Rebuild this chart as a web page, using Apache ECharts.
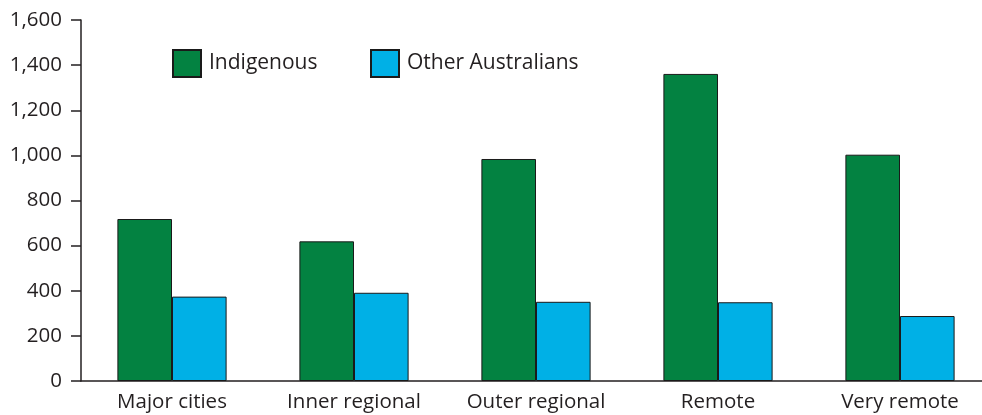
<!DOCTYPE html>
<html><head><meta charset="utf-8">
<script src="https://cdn.jsdelivr.net/npm/echarts@6/dist/echarts.min.js"></script>
<style>html,body{margin:0;padding:0;background:#fff;overflow:hidden;width:982px;height:415px}#c{width:991px;height:415px}</style>
</head><body><div id="c"></div>
<script>
const categories = ['Major cities','Inner regional','Outer regional','Remote','Very remote'];
const indigenous = [718, 619, 984, 1361, 1003];
const otherAustralians = [374, 391, 351, 349, 288];
const yTicks = {min: 0, max: 1600, interval: 200};

const FONT = 'Open Sans';
const TXT = '#231f20';
const chart = echarts.init(document.getElementById('c'), null, {renderer: 'canvas'});
chart.setOption({
  animation: false,
  backgroundColor: '#fff',
  grid: {left: 81, top: 20, height: 361, width: 910, containLabel: false},
  legend: [
    {data: ['Indigenous'], icon: 'rect', left: 172, top: 49, itemWidth: 28, itemHeight: 27, itemGap: 0,
     textStyle: {fontFamily: FONT, fontSize: 21, color: TXT, padding: [0,0,0,3]}, padding: 0},
    {data: ['Other Australians'], icon: 'rect', left: 370, top: 49, itemWidth: 28, itemHeight: 27, itemGap: 0,
     textStyle: {fontFamily: FONT, fontSize: 21, color: TXT, padding: [0,0,0,3]}, padding: 0}
  ],
  xAxis: {
    type: 'category', data: categories,
    axisLine: {lineStyle: {color: '#231f20', width: 1.5}},
    axisTick: {show: false},
    axisLabel: {fontFamily: FONT, fontSize: 20.5, color: TXT, margin: 11, interval: 0}
  },
  yAxis: {
    type: 'value', min: yTicks.min, max: yTicks.max, interval: yTicks.interval,
    splitLine: {show: false},
    axisLine: {show: true, lineStyle: {color: '#231f20', width: 1.5}},
    axisTick: {show: true, length: 10, lineStyle: {color: '#231f20', width: 1.5}},
    axisLabel: {fontFamily: FONT, fontSize: 20.5, color: TXT, margin: 19,
      formatter: v => v.toLocaleString('en-US')}
  },
  series: [
    {name: 'Indigenous', type: 'bar', data: indigenous, barGap: '0%', barCategoryGap: '40%',
     itemStyle: {color: '#038241', borderColor: '#1a1a1a', borderWidth: 1}},
    {name: 'Other Australians', type: 'bar', data: otherAustralians,
     itemStyle: {color: '#00b0e6', borderColor: '#1a1a1a', borderWidth: 1}}
  ]
});
</script></body></html>
